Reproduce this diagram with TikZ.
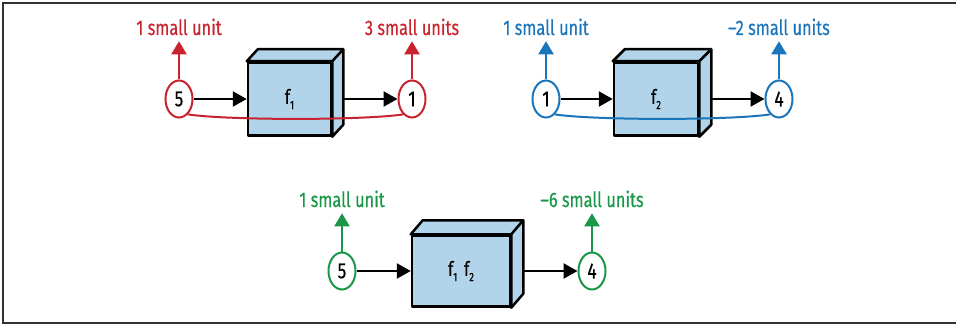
\documentclass[tikz,border=0pt]{standalone}
\usepackage{fontspec}
\setmainfont{Fira Sans}[FakeStretch=0.78, FakeBold=0.4]
\usetikzlibrary{calc,arrows.meta,shapes.geometric}
\definecolor{unitred}{HTML}{C8232F}
\definecolor{unitblue}{HTML}{1B75BB}
\definecolor{unitgreen}{HTML}{1A9848}
\definecolor{boxblue}{HTML}{B2D4EA}
\def\cubeside(#1)(#2){\draw[cube] (#1.north west) -- ++(#2) -- ($(#1.north east)+(#2)$) -- ($(#1.south east)+(#2)$) -- (#1.south east) -- (#1.north east) -- cycle; \draw[cube] (#1.north east) -- ++(#2);}
\def\fsub#1{f\raisebox{-0.5ex}{\fontsize{12}{12}\selectfont #1}}

\begin{document}
\begin{tikzpicture}[x=1pt, y=-1pt,
		val/.style={ellipse, line width=2pt, fill=white, minimum width=27pt, minimum height=37pt, inner sep=0pt, font=\fontsize{22}{22}\selectfont},
		unit/.style={anchor=base, inner sep=0pt, outer ysep=6pt, font=\fontsize{21}{21}\selectfont},
		cube/.style={draw, line width=2.5pt, fill=boxblue, line join=round},
		fn/.style={cube, rectangle, inner sep=0pt, font=\fontsize{20}{20}\selectfont},
		flow/.style={-{Triangle[length=14pt,width=15pt]}, line width=2.3pt},
		up/.style={-{Triangle[length=13pt,width=15pt]}, line width=2.2pt}]
			%%%%% START %%%%%
			
			\useasboundingbox (0, 0) rectangle (956, 326);
			\draw[line width=1.5pt, black!80] (960, 3) -- (3, 3) -- (3, 323) -- (960, 323);
			
			% f_1
			\node[fn, minimum width=83pt, minimum height=73pt] (b1) at (289.5, 99) {\fsub{1}};
			\cubeside(b1)(11, -12);
			\node[val, draw=unitred] (i1) at (179, 99) {5};
			\node[val, draw=unitred] (o1) at (412, 99) {1};
			\node[unit, unitred] (li1) at (179, 35) {1 small unit};
			\node[unit, unitred] (lo1) at (412, 35) {3 small units};
			\draw[flow] (i1) -- (b1);
			\draw[flow, shorten <=11pt] (b1) -- (o1);
			\draw[up, unitred] (i1) -- (li1);
			\draw[up, unitred] (o1) -- (lo1);
			\draw[line width=2pt, unitred] (i1.300) .. controls +(40, 6) and +(-40, 6) .. (o1.240);
			
			% f_2
			\node[fn, minimum width=84pt, minimum height=73pt] (b2) at (656, 99) {\fsub{2}};
			\cubeside(b2)(12, -12);
			\node[val, draw=unitblue] (i2) at (546, 99) {1};
			\node[val, draw=unitblue] (o2) at (779, 99) {4};
			\node[unit, unitblue] (li2) at (546, 35) {1 small unit};
			\node[unit, unitblue] (lo2) at (779, 35) {–2 small units};
			\draw[flow] (i2) -- (b2);
			\draw[flow, shorten <=12pt] (b2) -- (o2);
			\draw[up, unitblue] (i2) -- (li2);
			\draw[up, unitblue] (o2) -- (lo2);
			\draw[line width=2pt, unitblue] (i2.300) .. controls +(40, 6) and +(-40, 6) .. (o2.240);
			
			% f_1 f_2
			\node[fn, minimum width=98pt, minimum height=71pt] (b3) at (461, 271) {\fsub{1}\,\,\fsub{2}};
			\cubeside(b3)(12, -14);
			\node[val, draw=unitgreen] (i3) at (342, 271) {5};
			\node[val, draw=unitgreen] (o3) at (592, 271) {4};
			\node[unit, unitgreen] (li3) at (342, 207) {1 small unit};
			\node[unit, unitgreen] (lo3) at (592, 207) {–6 small units};
			\draw[flow] (i3) -- (b3);
			\draw[flow, shorten <=12pt] (b3) -- (o3);
			\draw[up, unitgreen] (i3) -- (li3);
			\draw[up, unitgreen] (o3) -- (lo3);
			
			%%%%% END %%%%%
		\end{tikzpicture}
\end{document}
